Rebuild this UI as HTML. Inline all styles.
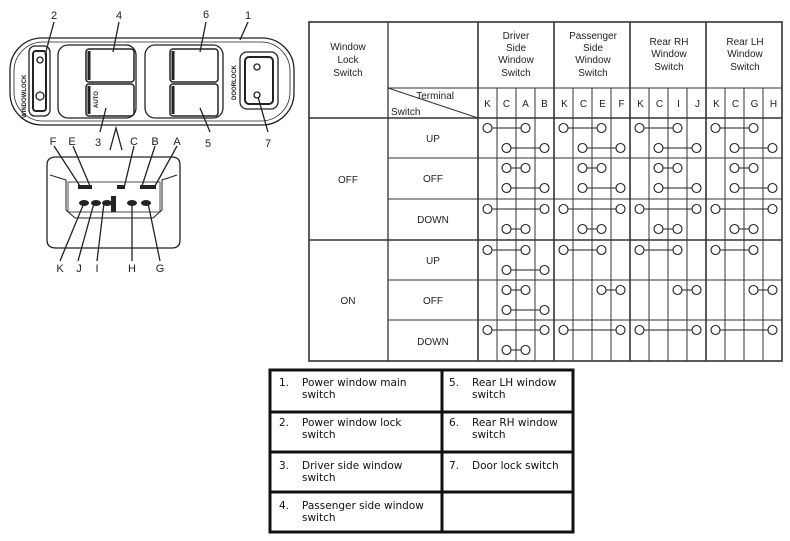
<!DOCTYPE html>
<html><head><meta charset="utf-8">
<style>
html,body{margin:0;padding:0;background:#fff;width:790px;height:541px;overflow:hidden}
svg{display:block}
text{font-family:"Liberation Sans",sans-serif;fill:#222}
.b{font-family:"DejaVu Sans","Liberation Sans",sans-serif;font-size:10.5px;fill:#111}
</style></head><body>
<svg id="s" width="790" height="541" viewBox="0 0 790 541" xmlns="http://www.w3.org/2000/svg">
<g fill="none" stroke="#222" stroke-width="1.3">
<!-- switch panel -->
<rect x="10" y="38" width="284" height="87" rx="32"/>
<rect x="14" y="42" width="276" height="79" rx="29" stroke-width="0.8"/>
<rect x="29" y="46" width="21" height="70" rx="6"/>
<rect x="33" y="51" width="13" height="60" rx="3" stroke-width="2"/>
<circle cx="40" cy="60" r="3"/><circle cx="40" cy="96" r="4"/>
<rect x="58" y="45" width="78" height="73" rx="10"/>
<rect x="86" y="49" width="48" height="33" rx="3" stroke-width="1.5"/>
<rect x="86" y="84" width="48" height="32" rx="3" stroke-width="1.5"/>
<line x1="89" y1="51" x2="89" y2="80" stroke-width="3"/><line x1="89" y1="86" x2="89" y2="114" stroke-width="3"/>
<rect x="145" y="45" width="78" height="73" rx="10"/>
<rect x="170" y="49" width="48" height="33" rx="3" stroke-width="1.5"/>
<rect x="170" y="84" width="48" height="32" rx="3" stroke-width="1.5"/>
<line x1="173" y1="51" x2="173" y2="80" stroke-width="3"/><line x1="173" y1="86" x2="173" y2="114" stroke-width="3"/>
<rect x="240" y="52" width="38" height="57" rx="7"/>
<rect x="245" y="57" width="28" height="47" rx="4" stroke-width="2"/>
<circle cx="257" cy="67" r="3"/><circle cx="257" cy="95" r="3"/>
<!-- leaders -->
<path d="M54 22 L45 55 M119 22 L113 52 M206 22 L200 52 M248 22 L240 40 M100 132 L106 108 M210 132 L200 108 M268 132 L258 97"/>
<!-- connector -->
<path d="M110 150 L116 128 L122 150"/>
<path d="M56 157 H172 Q180 157 180 165 V240 Q180 248 172 248 H56 Q47 248 47 240 V165 Q47 157 56 157 Z"/>
<path d="M50 175 L66 180 V210 L75 218 H153 L162 210 V180 L177 175" stroke-width="1"/>
<rect x="68" y="182" width="92" height="30" stroke-width="0.8"/>
<path d="M54 146 L80 186 M73 146 L90 186 M134 146 L124 188 M155 146 L142 186 M177 146 L155 186 M60 261 L84 203 M78 261 L94 203 M97 261 L104 203 M132 261 L132 203 M160 261 L148 203"/>
</g>
<g fill="#222">
<rect x="78" y="185" width="14" height="4"/><rect x="117" y="185" width="8" height="4"/><rect x="140" y="185" width="16" height="4"/>
<ellipse cx="84" cy="203" rx="5" ry="3"/><ellipse cx="96" cy="203" rx="5" ry="3"/><ellipse cx="107" cy="203" rx="5" ry="3"/>
<rect x="111" y="196" width="5" height="16"/><ellipse cx="132" cy="203" rx="5" ry="3"/><ellipse cx="146" cy="203" rx="5" ry="3"/>
</g>
<g font-size="11" text-anchor="middle">
<text x="54" y="19">2</text><text x="119" y="19">4</text><text x="206" y="18">6</text><text x="248" y="19">1</text>
<text x="98" y="146">3</text><text x="208" y="147">5</text><text x="268" y="147">7</text>
<text x="53" y="145">F</text><text x="72" y="145">E</text><text x="134" y="145">C</text><text x="155" y="145">B</text><text x="177" y="145">A</text>
<text x="60" y="272">K</text><text x="79" y="272">J</text><text x="97" y="272">I</text><text x="132" y="272">H</text><text x="160" y="272">G</text>
</g>
<text x="0" y="0" font-size="6" font-weight="bold" transform="translate(26,118) rotate(-90)">WINDOWLOCK</text>
<text x="0" y="0" font-size="6" font-weight="bold" transform="translate(236,100) rotate(-90)">DOORLOCK</text>
<text x="0" y="0" font-size="6" font-weight="bold" transform="translate(98,108) rotate(-90)">AUTO</text>

<!-- main table -->
<g id="grid" stroke="#333" fill="none"></g>
<g font-size="10" text-anchor="middle">
<text x="348" y="50">Window</text><text x="348" y="63">Lock</text><text x="348" y="76">Switch</text>
<text x="516" y="39">Driver</text><text x="516" y="51">Side</text><text x="516" y="63">Window</text><text x="516" y="76">Switch</text>
<text x="593" y="39">Passenger</text><text x="593" y="51">Side</text><text x="593" y="63">Window</text><text x="593" y="76">Switch</text>
<text x="669" y="45">Rear RH</text><text x="669" y="57">Window</text><text x="669" y="70">Switch</text>
<text x="745" y="45">Rear LH</text><text x="745" y="57">Window</text><text x="745" y="70">Switch</text>
<text x="454" y="99" text-anchor="end">Terminal</text>
<text x="391" y="115" text-anchor="start">Switch</text>
<text x="348" y="183">OFF</text><text x="348" y="304">ON</text>
<text x="433" y="142">UP</text><text x="433" y="182">OFF</text><text x="433" y="223">DOWN</text>
<text x="433" y="264">UP</text><text x="433" y="304">OFF</text><text x="433" y="345">DOWN</text>
</g>
<g id="terms" font-size="10" text-anchor="middle"><text x="487.5" y="107">K</text><text x="506.5" y="107">C</text><text x="525.5" y="107">A</text><text x="544.5" y="107">B</text><text x="564.5" y="107">K</text><text x="583.5" y="107">C</text><text x="602.5" y="107">E</text><text x="621.5" y="107">F</text><text x="640.5" y="107">K</text><text x="659.5" y="107">C</text><text x="678.5" y="107">I</text><text x="697.5" y="107">J</text><text x="716.5" y="107">K</text><text x="735.5" y="107">C</text><text x="754.5" y="107">G</text><text x="773.5" y="107">H</text></g>
<g id="circ" stroke="#222" stroke-width="1.1" fill="#fff"></g>

<!-- bottom table -->
<g fill="none" stroke="#111" stroke-width="3">
<rect x="270" y="370" width="303" height="162"/>
<line x1="442" y1="370" x2="442" y2="532"/>
<line x1="270" y1="412" x2="573" y2="412"/><line x1="270" y1="452" x2="573" y2="452"/><line x1="270" y1="492" x2="573" y2="492"/>
</g>
<g class="b">
<text class="b" x="279" y="386">1.</text><text class="b" x="302" y="386">Power window main</text><text class="b" x="302" y="398">switch</text>
<text class="b" x="279" y="426">2.</text><text class="b" x="302" y="426">Power window lock</text><text class="b" x="302" y="438">switch</text>
<text class="b" x="279" y="469">3.</text><text class="b" x="302" y="469">Driver side window</text><text class="b" x="302" y="481">switch</text>
<text class="b" x="279" y="509">4.</text><text class="b" x="302" y="509">Passenger side window</text><text class="b" x="302" y="521">switch</text>
<text class="b" x="449" y="386">5.</text><text class="b" x="472" y="386">Rear LH window</text><text class="b" x="472" y="398">switch</text>
<text class="b" x="449" y="426">6.</text><text class="b" x="472" y="426">Rear RH window</text><text class="b" x="472" y="438">switch</text>
<text class="b" x="449" y="469">7.</text><text class="b" x="472" y="469">Door lock switch</text>
</g>
</svg>
<script>
var NS="http://www.w3.org/2000/svg";
function el(p,t,a){var e=document.createElementNS(NS,t);for(var k in a)e.setAttribute(k,a[k]);p.appendChild(e);return e;}
var g=document.getElementById("grid"),c=document.getElementById("circ");
var L=309,R=782,T=22,B=361;
var rows=[118,158,199,240,280,320,361];
el(g,"rect",{x:L,y:T,width:R-L,height:B-T,"stroke-width":1.6});
el(g,"line",{x1:388,y1:T,x2:388,y2:B,"stroke-width":1.3});
el(g,"line",{x1:L,y1:118,x2:R,y2:118,"stroke-width":1.6});
el(g,"line",{x1:L,y1:240,x2:R,y2:240,"stroke-width":1.6});
el(g,"line",{x1:388,y1:88,x2:R,y2:88,"stroke-width":1.1});
el(g,"line",{x1:388,y1:88,x2:478,y2:118,"stroke-width":1});
[158,199,280,320].forEach(function(y){el(g,"line",{x1:388,y1:y,x2:R,y2:y,"stroke-width":1.1});});
for(var gi=0;gi<4;gi++){var x0=478+gi*76;
 el(g,"line",{x1:x0,y1:T,x2:x0,y2:B,"stroke-width":1.6});
 for(var k=1;k<4;k++)el(g,"line",{x1:x0+k*19,y1:88,x2:x0+k*19,y2:B,"stroke-width":1});}
// pattern: [row][group] -> [[a,b] top or null, [a,b] bottom or null]
var P=[
 function(g){return [[0,2],[1,3]];},
 function(g){return [[1,2],[1,3]];},
 function(g){return [[0,3],[1,2]];},
 function(g){return g==0?[[0,2],[1,3]]:[[0,2],null];},
 function(g){return g==0?[[1,2],[1,3]]:[[2,3],null];},
 function(g){return g==0?[[0,3],[1,2]]:[[0,3],null];}
];
for(var r=0;r<6;r++){for(var gi=0;gi<4;gi++){var pr=P[r](gi);
 for(var s=0;s<2;s++){var p=pr[s];if(!p)continue;var y=rows[r]+(s?30:10);
  var xa=478+gi*76+9.5+p[0]*19,xb=478+gi*76+9.5+p[1]*19;
  el(c,"line",{x1:xa,y1:y,x2:xb,y2:y});
  el(c,"circle",{cx:xa,cy:y,r:4.5});el(c,"circle",{cx:xb,cy:y,r:4.5});}}}
</script>
</body></html>
